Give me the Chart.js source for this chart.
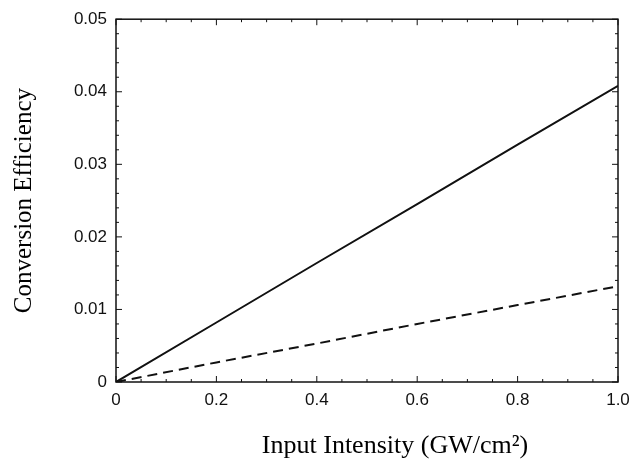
<!DOCTYPE html>
<html>
<head>
<meta charset="utf-8">
<script src="https://cdn.jsdelivr.net/npm/chart.js@4.4.0/dist/chart.umd.min.js"></script>
<style>
  html, body { margin: 0; padding: 0; background: #fff; }
  #wrap { width: 642px; height: 461px; }
</style>
</head>
<body>
<div id="wrap"><canvas id="graphCanvas" width="642" height="461"></canvas></div>
<script>
// values
var intensity = [0, 0.2, 0.4, 0.6, 0.8, 1.0];
var solidEff = [0, 0.0082, 0.0164, 0.0245, 0.0327, 0.0408];
var dashedEff = [0, 0.0027, 0.0053, 0.0080, 0.0106, 0.0132];
var xTicks = [0, 0.2, 0.4, 0.6, 0.8, 1.0];
var yTicks = [0, 0.01, 0.02, 0.03, 0.04, 0.05];
var xTitle = 'Input Intensity (GW/cm\u00b2)';
var yTitle = 'Conversion Efficiency';

function toPoints(xs, ys) {
    var pts = [];
    for (var i in xs) {
        pts.push({ x: xs[i], y: ys[i] });
    }
    return pts;
}

// frame with inward major/minor ticks on all four sides, plus the x title
var frameTicks = {
    id: 'frameTicks',
    afterDatasetsDraw: function (chart) {
        var ctx = chart.ctx, a = chart.chartArea;
        var x = chart.scales.x, y = chart.scales.y;
        ctx.save();
        ctx.strokeStyle = '#111';
        ctx.lineWidth = 1.5;
        ctx.strokeRect(a.left, a.top, a.right - a.left, a.bottom - a.top);

        ctx.lineWidth = 1;
        ctx.beginPath();
        for (var i = 0; i <= 20; i++) {
            var px = x.getPixelForValue(i * 0.05);
            var len = i % 4 === 0 ? 6 : 3;
            ctx.moveTo(px, a.bottom); ctx.lineTo(px, a.bottom - len);
            ctx.moveTo(px, a.top); ctx.lineTo(px, a.top + len);
        }
        for (var j = 0; j <= 25; j++) {
            var py = y.getPixelForValue(j * 0.002);
            var l = j % 5 === 0 ? 6 : 3;
            ctx.moveTo(a.left, py); ctx.lineTo(a.left + l, py);
            ctx.moveTo(a.right, py); ctx.lineTo(a.right - l, py);
        }
        ctx.stroke();

        ctx.font = '26px "Liberation Serif", "Times New Roman", serif';
        ctx.fillStyle = '#000';
        ctx.textAlign = 'center';
        ctx.textBaseline = 'middle';
        ctx.fillText(xTitle, (x.left + x.right) / 2 + 28, 446);
        ctx.restore();
    }
};

var chartdata = {
    datasets: [
        {
            label: 'solid',
            data: toPoints(intensity, solidEff),
            borderColor: '#111',
            borderWidth: 2,
            pointRadius: 0,
            fill: false,
            tension: 0
        },
        {
            label: 'dashed',
            data: toPoints(intensity, dashedEff),
            borderColor: '#111',
            borderWidth: 2,
            borderDash: [10, 6],
            pointRadius: 0,
            fill: false,
            tension: 0
        }
    ]
};

var tickFont = { family: '"Liberation Sans", Arial, sans-serif', size: 17 };

var lineGraph = new Chart(document.getElementById('graphCanvas'), {
    type: 'line',
    data: chartdata,
    options: {
        responsive: false,
        animation: false,
        layout: { padding: { top: 17, right: 24, left: 0, bottom: 0 } },
        plugins: {
            legend: { display: false },
            tooltip: { enabled: false }
        },
        scales: {
            x: {
                type: 'linear',
                min: 0,
                max: 1,
                afterFit: function (s) { s.height = 79; },
                afterBuildTicks: function (s) {
                    s.ticks = xTicks.map(function (v) { return { value: v }; });
                },
                grid: { display: false, drawTicks: false },
                border: { display: false },
                ticks: {
                    padding: 8,
                    color: '#111',
                    font: tickFont,
                    maxRotation: 0,
                    callback: function (v) { return v === 0 ? '0' : v.toFixed(1); }
                }
            },
            y: {
                type: 'linear',
                min: 0,
                max: 0.05,
                afterFit: function (s) { s.width = 116; },
                afterBuildTicks: function (s) {
                    s.ticks = yTicks.map(function (v) { return { value: v }; });
                },
                grid: { display: false, drawTicks: false },
                border: { display: false },
                ticks: {
                    padding: 9,
                    color: '#111',
                    font: tickFont,
                    callback: function (v) { return v === 0 ? '0' : v.toFixed(2); }
                },
                title: {
                    display: true,
                    text: yTitle,
                    color: '#000',
                    font: { family: '"Liberation Serif", "Times New Roman", serif', size: 25 },
                    padding: { top: 9, bottom: 0 }
                }
            }
        }
    },
    plugins: [frameTicks]
});
</script>
</body>
</html>
